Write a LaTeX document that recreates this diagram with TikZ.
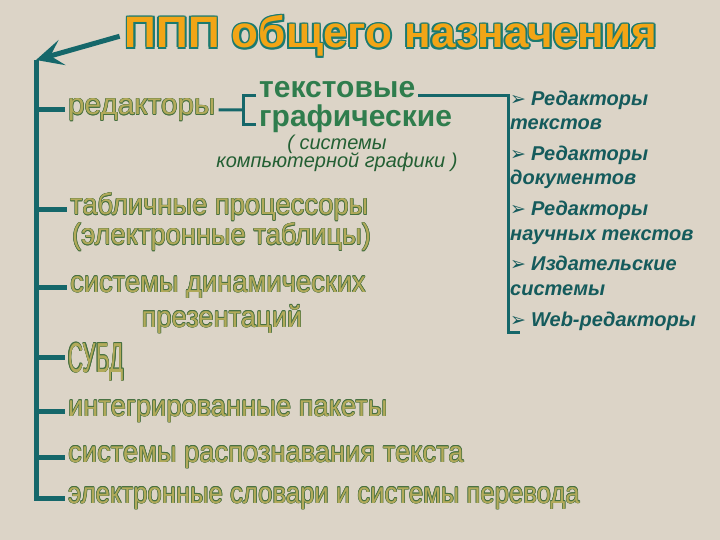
\documentclass[tikz,border=0pt]{standalone}
\usepackage{fontspec}
\setmainfont{Liberation Sans}
\newfontfamily\itemfont[FakeStretch=0.92]{Liberation Sans}
\newfontfamily\snugfont[FakeStretch=0.865]{Liberation Sans}
\newfontfamily\tallfont[FakeStretch=0.5]{Liberation Sans}
\newfontfamily\dingfont{DejaVu Sans}
\usetikzlibrary{arrows.meta}
\usetikzlibrary{calc}

\definecolor{paper}{HTML}{DCD4C7}
\definecolor{trunk}{HTML}{15676A}
\definecolor{titlefill}{HTML}{F2A516}
\definecolor{titleline}{HTML}{1B7A70}
\definecolor{itemfill}{HTML}{B2AA5A}
\definecolor{itemline}{HTML}{46703F}
\definecolor{kindcol}{HTML}{2F7D4D}
\definecolor{notecol}{HTML}{235F33}
\definecolor{listcol}{HTML}{155B5C}

% text with a coloured rim: #1 rim, #2 fill, #3 rim width, #4 text
\newcommand\ringtext[4]{%
  \leavevmode
  \rlap{\kern-#3\textcolor{#1}{#4}}%
  \rlap{\kern#3\textcolor{#1}{#4}}%
  \rlap{\raisebox{#3}{\textcolor{#1}{#4}}}%
  \rlap{\raisebox{-#3}{\textcolor{#1}{#4}}}%
  \rlap{\kern-\dimexpr#3*7/10\relax\raisebox{\dimexpr#3*7/10\relax}{\textcolor{#1}{#4}}}%
  \rlap{\kern\dimexpr#3*7/10\relax\raisebox{\dimexpr#3*7/10\relax}{\textcolor{#1}{#4}}}%
  \rlap{\kern-\dimexpr#3*7/10\relax\raisebox{-\dimexpr#3*7/10\relax}{\textcolor{#1}{#4}}}%
  \rlap{\kern\dimexpr#3*7/10\relax\raisebox{-\dimexpr#3*7/10\relax}{\textcolor{#1}{#4}}}%
  \textcolor{#2}{#4}}
\newcommand\itm[1]{\ringtext{itemline}{itemfill}{0.55bp}{#1}}
\newcommand\bul{{\dingfont\fontsize{19bp}{19bp}\selectfont ➢}\hspace{5bp}}

\begin{document}
\begin{tikzpicture}[x=1bp,y=-1bp,line cap=butt]
  \tikzstyle{item}=[inner xsep=3bp, inner ysep=0pt, text height=10bp, text depth=0pt, anchor=base west, font=\itemfont\fontsize{29.7bp}{31bp}\selectfont]
  \tikzstyle{kind}=[inner xsep=3bp, inner ysep=0pt, text height=4bp, text depth=0pt, anchor=base west, font=\fontsize{30bp}{32bp}\selectfont\bfseries, text=kindcol]
  \tikzstyle{note}=[inner sep=0pt, anchor=base, font=\fontsize{20bp}{22bp}\selectfont\itshape, text=notecol]
  \tikzstyle{list}=[inner sep=0pt, anchor=base west, font=\fontsize{20bp}{22bp}\selectfont\bfseries\itshape, text=listcol]
  \tikzstyle{stem}=[draw=trunk, line width=5bp]
  \tikzstyle{thin}=[draw=trunk, line width=3bp]

  \fill[paper] (0,0) rectangle (720,540);
  \useasboundingbox (0,0) rectangle (720,540);

  % title
  \node[inner xsep=5bp, inner ysep=0pt, anchor=base, font=\fontsize{44bp}{46bp}\selectfont\bfseries] (T) at (391,48)
       {\ringtext{titleline}{titlefill}{1.8bp}{ППП общего назначения}};
  \coordinate (top) at (36,60);

  % left column
  \node[item, font=\fontsize{29.7bp}{31bp}\selectfont] (R) at (65,115) {\itm{редакторы}};
  \node[item] (P1) at (67,215) {\itm{табличные процессоры}};
  \node[item] (P2) at (69,245) {\itm{(электронные таблицы)}};
  \node[item] (S1) at (67,292) {\itm{системы динамических}};
  \node[item, anchor=base] (S2) at (222,327) {\itm{презентаций}};
  \node[item, text height=30bp, font=\tallfont\fontsize{42bp}{44bp}\selectfont] (D) at (65,372) {\itm{СУБД}};
  \node[item] (I)  at (65,416) {\itm{интегрированные пакеты}};
  \node[item] (O)  at (65,462) {\itm{системы распознавания текста}};
  \node[item, font=\snugfont\fontsize{29.7bp}{31bp}\selectfont] (E) at (65,503) {\itm{электронные словари и системы перевода}};

  % editors
  \node[kind] (TX) at (256,98)  {текстовые};
  \node[kind] (GR) at (256,127) {графические};
  \node[note] (N1) at (337,150) {( системы};
  \node[note] (N2) at (337,168) {компьютерной графики )};
  \coordinate (BR) at (243,110);

  % kinds of text editors
  \node[list] (L1)  at (510,106) {\bul Редакторы};
  \node[list] (L1b) at ([yshift=-24bp]L1.base west) {текстов};
  \node[list] (L2)  at (510,161) {\bul Редакторы};
  \node[list] (L2b) at ([yshift=-24bp]L2.base west) {документов};
  \node[list] (L3)  at (510,216) {\bul Редакторы};
  \node[list] (L3b) at ([yshift=-24bp]L3.base west) {научных текстов};
  \node[list] (L4)  at (510,271) {\bul Издательские};
  \node[list] (L4b) at ([yshift=-24bp]L4.base west) {системы};
  \node[list] (L5)  at (510,326) {\bul Web-редакторы};
  \coordinate (RB) at (508,332);
  \coordinate (RE) at (520,332);

  % lines
  \draw[stem, -{Stealth[length=27bp, width=26bp, inset=12bp]}] (T.west) -- (top);
  \draw[stem] (top) |- (E.west);
  \draw[stem] (top |- R.west)  -- (R.west);
  \draw[stem] (top |- P1.west) -- (P1.west);
  \draw[stem] (top |- S1.west) -- (S1.west);
  \draw[stem] (top |- D.west)  -- (D.west);
  \draw[stem] (top |- I.west)  -- (I.west);
  \draw[stem] (top |- O.west)  -- (O.west);
  \draw[thin] (R.east) -- (BR);
  \draw[thin] (TX.west) -| (BR);
  \draw[thin] (GR.west) -| (BR);
  \draw[thin] (TX.east) -| (RB) -- (RE);
\end{tikzpicture}
\end{document}
